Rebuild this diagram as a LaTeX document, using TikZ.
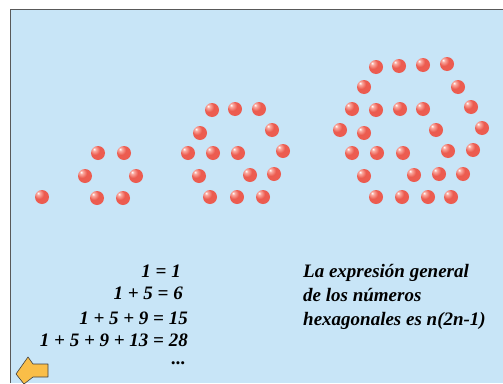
\documentclass[tikz,border=0pt]{standalone}
\usepackage{fontspec}
\setmainfont{Liberation Serif}
\usepackage{tikz}
\usetikzlibrary{calc}

\definecolor{panelblue}{RGB}{200,229,247}
\definecolor{beadred}{RGB}{236,92,80}
\definecolor{beadlight}{RGB}{250,170,160}
\definecolor{beaddark}{RGB}{205,60,52}
\definecolor{arrowgold}{RGB}{250,190,72}
\pgfdeclareradialshading{beadshade}{\pgfpoint{-14bp}{14bp}}{%
	color(0bp)=(white);color(6bp)=(beadlight);color(18bp)=(beadred);
	color(40bp)=(beadred);color(50bp)=(beaddark);color(100bp)=(beaddark)}
\tikzset{
	bead/.style={circle,inner sep=0pt,minimum size=14pt,shading=beadshade},
	caption/.style={font=\bfseries\itshape\fontsize{19}{22}\selectfont,inner sep=0pt}
}

\begin{document}
\begin{tikzpicture}[x=1pt,y=-1pt]
		\useasboundingbox (0,0) rectangle (503,383);
		\fill[panelblue] (10,9) rectangle (503,383);
		\draw[gray!70!black,line width=1pt] (10,383)--(10,9)--(503,9);
		% first hexagonal number pictures
		\foreach \x/\y [count=\i] in {42/197,98/153,124/153,85/176,136/176,97/198,123/198}
			\node[bead] (a\i) at (\x,\y) {};
		\foreach \x/\y [count=\i] in {212/110,235/109,259/109,200/133,272/130,
			188/153,213/153,238/153,283/151,199/176,250/175,274/174,210/197,237/197,263/197}
			\node[bead] (b\i) at (\x,\y) {};
		\foreach \x/\y [count=\i] in {376/67,399/66,423/65,447/64,364/87,458/87,
			352/109,376/110,400/109,423/109,471/107,340/130,364/133,436/130,482/128,
			352/153,377/153,403/153,448/151,473/150,364/176,414/175,439/174,463/174,
			376/197,402/197,428/197,451/197}
			\node[bead] (c\i) at (\x,\y) {};
		% sums
		\node[caption,anchor=base east] (eq1) at (181,277) {1 = 1};
		\node[caption,anchor=base east] (eq2) at (183,299) {1 + 5 = 6};
		\node[caption,anchor=base east] (eq3) at (188,324) {1 + 5 + 9 = 15};
		\node[caption,anchor=base east] (eq4) at (188,346) {1 + 5 + 9 + 13 = 28};
		\node[caption,anchor=base east] (eq5) at (186,364) {...};
		% general formula
		\node[caption,anchor=base west] (txt1) at (303,277) {La expresión general};
		\node[caption,anchor=base west] (txt2) at (303,301) {de los números};
		\node[caption,anchor=base west] (txt3) at (303,325) {hexagonales es n(2n-1)};
		% back arrow
		\draw[fill=arrowgold,draw=gray!50!black,line width=0.6pt,line join=round]
			(48,364)--(33,364)--(28,357)--(16,374)--(24,384)--(33,377)--(48,377)--cycle;
\end{tikzpicture}
\end{document}
